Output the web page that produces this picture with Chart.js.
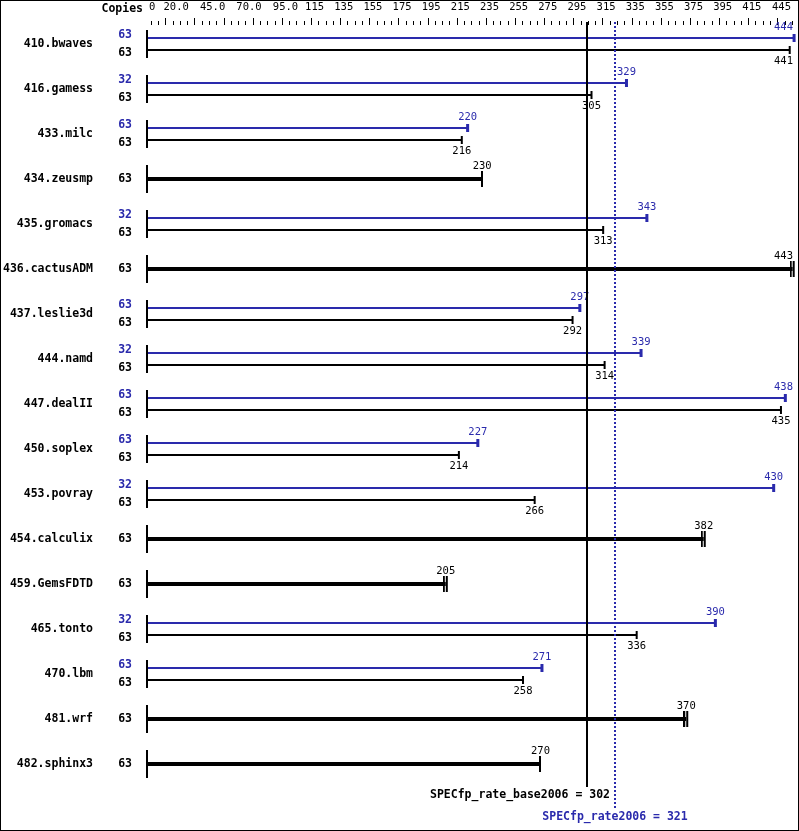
<!DOCTYPE html>
<html>
<head>
<meta charset="utf-8">
<script src="https://cdn.jsdelivr.net/npm/chart.js@4.4.0/dist/chart.umd.min.js"></script>
<style>
  body { margin: 0; background: #fff; }
  canvas { display: block; }
</style>
</head>
<body>
<canvas id="specChart" width="799" height="831"></canvas>
<script>
// benchmark rows, top to bottom
var benchmarks = ["410.bwaves", "416.gamess", "433.milc", "434.zeusmp", "435.gromacs",
                  "436.cactusADM", "437.leslie3d", "444.namd", "447.dealII", "450.soplex",
                  "453.povray", "454.calculix", "459.GemsFDTD", "465.tonto", "470.lbm",
                  "481.wrf", "482.sphinx3"];
var baseCopies = [63, 63, 63, 63, 63, 63, 63, 63, 63, 63, 63, 63, 63, 63, 63, 63, 63];
var peakCopies = [63, 32, 63, null, 32, null, 63, 32, 63, 63, 32, null, null, 32, 63, null, null];
var baseRatio  = [441, 305, 216, 230, 313, 443, 292, 314, 435, 214, 266, 382, 205, 336, 258, 370, 270];
var peakRatio  = [444, 329, 220, null, 343, null, 297, 339, 438, 227, 430, null, null, 390, 271, null, null];
// rows where base and peak are the same run set, shown with a double end mark
var doubleMark = ["436.cactusADM", "454.calculix", "459.GemsFDTD", "481.wrf"];

var tickValues = [0, 20, 45, 70, 95, 115, 135, 155, 175, 195, 215, 235, 255, 275, 295, 315, 335, 355, 375, 395, 415, 445];
var tickText   = ["0", "20.0", "45.0", "70.0", "95.0", "115", "135", "155", "175", "195", "215", "235",
                  "255", "275", "295", "315", "335", "355", "375", "395", "415", "445"];

var specBase = 302;
var specPeak = 321;

var BLUE = "#2a2aac";
var OFF = 6 / 45;   // half gap between peak and base bar, in row units

function buildLine(values, other, side) {
  var pts = [];
  for (var i = 0; i < values.length; i++) {
    if (values[i] == null) continue;
    var y = i;
    if (side == "peak") y = i - OFF;
    if (side == "base") {
      if (other[i] == null) continue;   // single rows are drawn as thick bars
      y = i + OFF;
    }
    pts.push({x: 0, y: y});
    pts.push({x: values[i], y: y, end: true});
    pts.push({x: null, y: null});
  }
  return pts;
}

function buildSingle() {
  var pts = [];
  for (var i = 0; i < baseRatio.length; i++) {
    if (peakRatio[i] != null) continue;
    pts.push({x: 0, y: i});
    pts.push({x: baseRatio[i], y: i, end: true, dbl: doubleMark.includes(benchmarks[i])});
    pts.push({x: null, y: null});
  }
  return pts;
}

// end marks for the thick bars
var dbl = document.createElement("canvas");
dbl.width = 6; dbl.height = 16;
var dctx = dbl.getContext("2d");
dctx.fillStyle = "#000";
dctx.fillRect(0, 0, 2, 16);
dctx.fillRect(3, 0, 2, 16);

var sgl = document.createElement("canvas");
sgl.width = 2; sgl.height = 16;
var sctx = sgl.getContext("2d");
sctx.fillStyle = "#000";
sctx.fillRect(0, 0, 2, 16);

var decorations = {
  id: "decorations",
  afterDatasetsDraw: function(chart) {
    var ctx = chart.ctx;
    var xs = chart.scales.x, ys = chart.scales.y;
    var x0 = xs.getPixelForValue(0);
    ctx.save();

    // frame
    ctx.strokeStyle = "#000";
    ctx.lineWidth = 1;
    ctx.strokeRect(0.5, 0.5, chart.width - 1, chart.height - 1);

    // top axis ticks
    ctx.fillStyle = "#000";
    var k = 0;
    for (var v = 2.5; v < 446; v += 5) {
      var px = Math.round(xs.getPixelForValue(v));
      var len = (k % 4 == 2) ? 7 : 4;
      ctx.fillRect(px, 25 - len, 1, len);
      k++;
    }
    ctx.font = "10.5px 'DejaVu Sans Mono'";
    ctx.textAlign = "center";
    ctx.textBaseline = "middle";
    for (var t = 0; t < tickValues.length; t++) {
      var tx = xs.getPixelForValue(tickValues[t]);
      var w = ctx.measureText(tickText[t]).width;
      if (t == 0) tx = x0 + 2 + w / 2;
      tx = Math.min(tx, chart.width - 8 - w / 2);
      ctx.fillText(tickText[t], tx, 7);
    }
    ctx.font = "bold 11.5px 'DejaVu Sans Mono'";
    ctx.textAlign = "right";
    ctx.fillText("Copies", 143, 9);

    // rows
    for (var i = 0; i < benchmarks.length; i++) {
      var cy = ys.getPixelForValue(i);
      var single = peakRatio[i] == null;
      ctx.fillStyle = "#000";
      ctx.fillRect(x0 - 1, cy - 14, 2, 28);

      ctx.font = "bold 11.5px 'DejaVu Sans Mono'";
      ctx.textAlign = "right";
      ctx.fillText(benchmarks[i], 93, cy);
      if (single) {
        ctx.fillText(String(baseCopies[i]), 132, cy);
      } else {
        ctx.fillText(String(baseCopies[i]), 132, cy + 9);
        ctx.fillStyle = BLUE;
        ctx.fillText(String(peakCopies[i]), 132, cy - 9);
      }

      ctx.font = "10.5px 'DejaVu Sans Mono'";
      ctx.textAlign = "center";
      var bx = xs.getPixelForValue(baseRatio[i]);
      var bw = ctx.measureText(String(baseRatio[i])).width;
      bx = Math.min(bx, chart.width - 6 - bw / 2);
      ctx.fillStyle = "#000";
      if (single) {
        ctx.fillText(String(baseRatio[i]), bx, cy - 13);
      } else {
        ctx.fillText(String(baseRatio[i]), bx, cy + 17);
        var pxv = xs.getPixelForValue(peakRatio[i]);
        var pw = ctx.measureText(String(peakRatio[i])).width;
        pxv = Math.min(pxv, chart.width - 6 - pw / 2);
        ctx.fillStyle = BLUE;
        ctx.fillText(String(peakRatio[i]), pxv, cy - 17);
      }
    }

    // overall base line
    var lb = Math.round(xs.getPixelForValue(specBase));
    ctx.fillStyle = "#000";
    ctx.fillRect(lb - 1, 22, 2, 765);
    // overall peak line (dotted)
    var lp = Math.round(xs.getPixelForValue(specPeak));
    ctx.strokeStyle = BLUE;
    ctx.lineWidth = 2;
    ctx.setLineDash([2, 2]);
    ctx.beginPath();
    ctx.moveTo(lp, 22);
    ctx.lineTo(lp, 809);
    ctx.stroke();
    ctx.setLineDash([]);

    ctx.font = "bold 11.5px 'DejaVu Sans Mono'";
    ctx.textAlign = "right";
    ctx.fillStyle = "#000";
    ctx.fillText("SPECfp_rate_base2006 = " + specBase, lp - 5, 795);
    ctx.textAlign = "center";
    ctx.fillStyle = BLUE;
    ctx.fillText("SPECfp_rate2006 = " + specPeak, lp, 817);
    ctx.restore();
  }
};

var ctx = document.getElementById("specChart").getContext("2d");
var chart = new Chart(ctx, {
  type: "scatter",
  data: {
    datasets: [{
      label: "peak",
      data: buildLine(peakRatio, baseRatio, "peak"),
      showLine: true,
      spanGaps: false,
      borderColor: BLUE,
      borderWidth: 2,
      pointStyle: "line",
      rotation: 90,
      pointRadius: function(c) { return c.raw && c.raw.end ? 4 : 0; },
      pointBorderColor: BLUE,
      pointBorderWidth: 3
    }, {
      label: "base",
      data: buildLine(baseRatio, peakRatio, "base"),
      showLine: true,
      spanGaps: false,
      borderColor: "#000",
      borderWidth: 2,
      pointStyle: "line",
      rotation: 90,
      pointRadius: function(c) { return c.raw && c.raw.end ? 4 : 0; },
      pointBorderColor: "#000",
      pointBorderWidth: 2
    }, {
      label: "same",
      data: buildSingle(),
      showLine: true,
      spanGaps: false,
      borderColor: "#000",
      borderWidth: 4,
      pointStyle: function(c) {
        if (!c.raw || !c.raw.end) return false;
        return c.raw.dbl ? dbl : sgl;
      },
      pointRadius: function(c) { return c.raw && c.raw.end ? 3 : 0; }
    }]
  },
  options: {
    responsive: false,
    animation: false,
    layout: { padding: { left: 147, right: 2, top: 21.5, bottom: 44.5 } },
    scales: {
      x: { type: "linear", min: 0, max: 446, display: false },
      y: { type: "linear", min: -0.5, max: 16.5, reverse: true, display: false }
    },
    plugins: { legend: { display: false }, tooltip: { enabled: false } },
    events: []
  },
  plugins: [decorations]
});
</script>
</body>
</html>
